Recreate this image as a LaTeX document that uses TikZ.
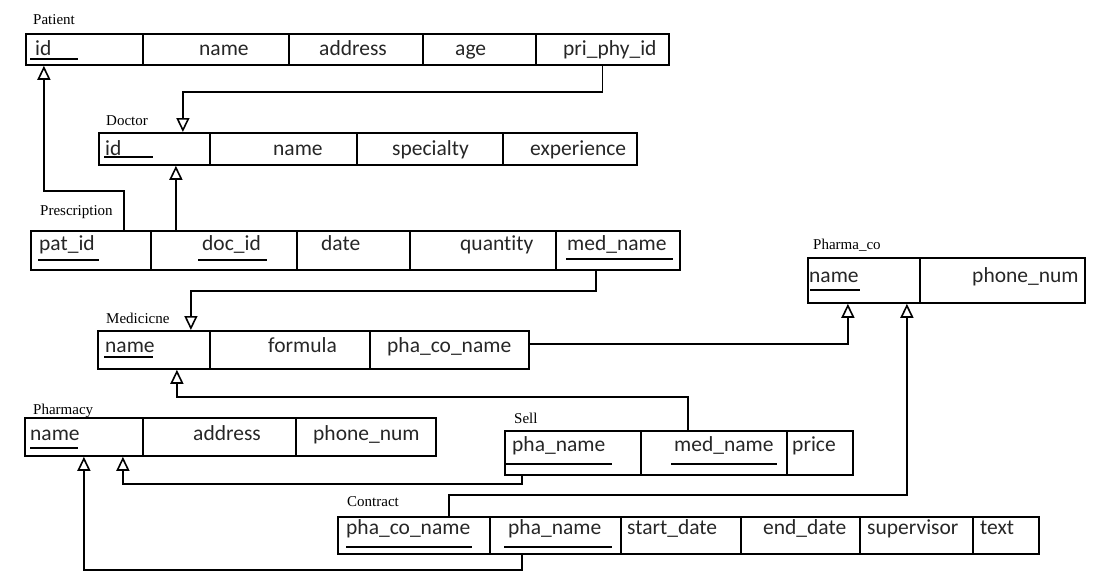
\documentclass[tikz,border=0pt]{standalone}
\usepackage{fontspec}
\setmainfont{Liberation Serif}
\newfontfamily\cellfont[Ligatures={NoCommon}]{Carlito}
\usetikzlibrary{arrows.meta}
\begin{document}
\begin{tikzpicture}[x=1pt,y=-1pt,
  cell/.style={draw, line width=1.8pt, inner sep=0pt, anchor=north west},
  txt/.style={anchor=base west, inner sep=0pt, font=\cellfont\fontsize{21.5}{24}\selectfont, text=black!85},
  tname/.style={anchor=base west, inner sep=0pt, font=\fontsize{15}{17}\selectfont},
  uline/.style={line width=1.5pt},
  fk/.style={line width=1.7pt, -{Triangle[open, length=14pt, width=13pt, line width=1.6pt]}}]
\useasboundingbox (0,0) rectangle (1110,581);

% ---------- Patient ----------
\node[tname] (lpat) at (33,24) {Patient};
\node[cell, minimum width=117pt, minimum height=31pt] (pat1) at (25,33) {};
\node[cell, minimum width=146pt, minimum height=31pt] (pat2) at (142,33) {};
\node[cell, minimum width=134pt, minimum height=31pt] (pat3) at (288,33) {};
\node[cell, minimum width=113pt, minimum height=31pt] (pat4) at (422,33) {};
\node[cell, minimum width=133pt, minimum height=31pt] (pat5) at (535,33) {};
\node[txt] (tpat1) at (35,55) {id};
\node[txt] (tpat2) at (199,55) {name};
\node[txt] (tpat3) at (319,55) {address};
\node[txt] (tpat4) at (455,55) {age};
\node[txt] (tpat5) at (563,55) {pri\_phy\_id};
\draw[uline] (30,59) -- (78,59);

% ---------- Doctor ----------
\node[tname] (ldoc) at (106,125) {Doctor};
\node[cell, minimum width=111pt, minimum height=32pt] (doc1) at (98,132) {};
\node[cell, minimum width=147pt, minimum height=32pt] (doc2) at (209,132) {};
\node[cell, minimum width=146pt, minimum height=32pt] (doc3) at (356,132) {};
\node[cell, minimum width=134pt, minimum height=32pt] (doc4) at (502,132) {};
\node[txt] (tdoc1) at (105,155) {id};
\node[txt] (tdoc2) at (273,155) {name};
\node[txt] (tdoc3) at (392,155) {specialty};
\node[txt] (tdoc4) at (530,155) {experience};
\draw[uline] (104,157) -- (153,157);

% ---------- Prescription ----------
\node[tname] (lpr) at (40,215) {Prescription};
\node[cell, minimum width=120pt, minimum height=39pt] (pr1) at (30,230) {};
\node[cell, minimum width=146pt, minimum height=39pt] (pr2) at (150,230) {};
\node[cell, minimum width=113pt, minimum height=39pt] (pr3) at (296,230) {};
\node[cell, minimum width=146pt, minimum height=39pt] (pr4) at (409,230) {};
\node[cell, minimum width=124pt, minimum height=39pt] (pr5) at (555,230) {};
\node[txt] (tpr1) at (39,250) {pat\_id};
\node[txt] (tpr2) at (202,250) {doc\_id};
\node[txt] (tpr3) at (321,250) {date};
\node[txt] (tpr4) at (460,250) {quantity};
\node[txt] (tpr5) at (567,250) {med\_name};
\draw[uline] (38,260) -- (99,260);
\draw[uline] (198,260) -- (267,260);
\draw[line width=2.8pt] (566,259) -- (673,259);

% ---------- Medicine ----------
\node[tname] (lmed) at (106,323) {Medicicne};
\node[cell, minimum width=112pt, minimum height=38pt] (med1) at (97,330) {};
\node[cell, minimum width=160pt, minimum height=38pt] (med2) at (209,330) {};
\node[cell, minimum width=159pt, minimum height=38pt] (med3) at (369,330) {};
\node[txt] (tmed1) at (105,352) {name};
\node[txt] (tmed2) at (268,352) {formula};
\node[txt] (tmed3) at (387,352) {pha\_co\_name};
\draw[uline] (104,357) -- (153,357);

% ---------- Pharma_co ----------
\node[tname] (lpco) at (813,249) {Pharma\_co};
\node[cell, minimum width=112pt, minimum height=45pt] (pco1) at (807,257) {};
\node[cell, minimum width=165pt, minimum height=45pt] (pco2) at (919,257) {};
\node[txt] (tpco1) at (809,282) {name};
\node[txt] (tpco2) at (972,282) {phone\_num};
\draw[uline] (810,290) -- (860,290);

% ---------- Pharmacy ----------
\node[tname] (lph) at (33,414) {Pharmacy};
\node[cell, minimum width=118pt, minimum height=38pt] (ph1) at (24,417) {};
\node[cell, minimum width=153pt, minimum height=38pt] (ph2) at (142,417) {};
\node[cell, minimum width=140pt, minimum height=38pt] (ph3) at (295,417) {};
\node[txt] (tph1) at (30,440) {name};
\node[txt] (tph2) at (193,440) {address};
\node[txt] (tph3) at (313,440) {phone\_num};
\draw[uline] (30,448) -- (78,448);

% ---------- Sell ----------
\node[tname] (lsell) at (514,423) {Sell};
\node[cell, minimum width=136pt, minimum height=44pt] (sell1) at (504,430) {};
\node[cell, minimum width=146pt, minimum height=44pt] (sell2) at (640,430) {};
\node[cell, minimum width=66pt, minimum height=44pt] (sell3) at (786,430) {};
\node[txt] (tsell1) at (512,451) {pha\_name};
\node[txt] (tsell2) at (674,451) {med\_name};
\node[txt] (tsell3) at (792,451) {price};
\draw[uline] (505,464) -- (612,464);
\draw[uline] (671,464) -- (777,464);

% ---------- Contract ----------
\node[tname] (lcon) at (347,506) {Contract};
\node[cell, minimum width=152pt, minimum height=37pt] (con1) at (337,516) {};
\node[cell, minimum width=131pt, minimum height=37pt] (con2) at (489,516) {};
\node[cell, minimum width=120pt, minimum height=37pt] (con3) at (620,516) {};
\node[cell, minimum width=119pt, minimum height=37pt] (con4) at (740,516) {};
\node[cell, minimum width=113pt, minimum height=37pt] (con5) at (859,516) {};
\node[cell, minimum width=66pt, minimum height=37pt] (con6) at (972,516) {};
\node[txt] (tcon1) at (346,534) {pha\_co\_name};
\node[txt] (tcon2) at (508,534) {pha\_name};
\node[txt] (tcon3) at (627,534) {start\_date};
\node[txt] (tcon4) at (763,534) {end\_date};
\node[txt] (tcon5) at (867,534) {supervisor};
\node[txt] (tcon6) at (980,534) {text};
\draw[uline] (346,547) -- (472,547);
\draw[uline] (504,547) -- (612,547);

% ---------- Foreign keys ----------
\draw[fk] (pat5.south) -- ++(0,26) -| ([xshift=28.5pt]doc1.north);
\draw[fk] ([xshift=33pt]pr1.north) -- ++(0,-39) -| ([xshift=-40.5pt]pat1.south);
\draw[fk] ([xshift=-48pt]pr2.north) -- ([xshift=21.5pt]doc1.south);
\draw[fk] ([xshift=-22pt]pr5.south) -- ++(0,20) -| ([xshift=37pt]med1.north);
\draw[fk] ([yshift=6pt]med3.east) -| ([xshift=-16pt]pco1.south);
\draw[fk] ([xshift=-26pt]sell2.north) -- ++(0,-33) -| ([xshift=23pt]med1.south);
\draw[fk] ([xshift=-51pt]sell1.south) -- ++(0,8) -| ([xshift=39pt]ph1.south);
\draw[fk] ([xshift=-33.5pt]con2.south) -- ++(0,15) -| (ph1.south);
\draw[fk] ([xshift=35pt]con1.north) -- ++(0,-21) -| ([xshift=43pt]pco1.south);
\end{tikzpicture}
\end{document}
